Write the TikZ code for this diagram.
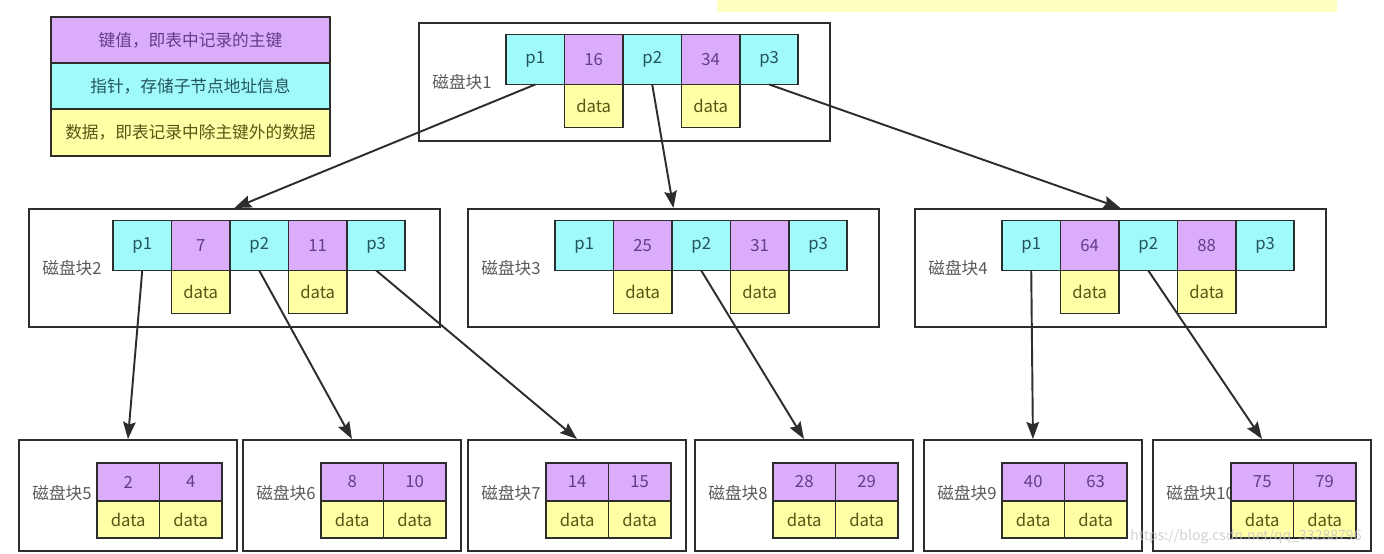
\documentclass[tikz,border=0pt]{standalone}
\usepackage{fontspec}
\setmainfont{Noto Sans CJK SC}
\usetikzlibrary{calc,arrows.meta}
\definecolor{keyc}{RGB}{218,172,250}
\definecolor{ptrc}{RGB}{160,250,250}
\definecolor{datac}{RGB}{255,255,165}
\definecolor{linec}{RGB}{45,45,45}
\definecolor{keytxt}{RGB}{100,60,135}
\definecolor{ptrtxt}{RGB}{35,85,95}
\definecolor{dattxt}{RGB}{90,85,20}
\definecolor{lbltxt}{RGB}{90,90,90}
\definecolor{barc}{RGB}{255,255,192}

\begin{document}
\begin{tikzpicture}[x=0.02cm,y=-0.02cm,
		cell/.style={draw=linec,line width=1.1pt,outer sep=0pt,inner sep=0pt,anchor=north west,
			minimum width=1.17cm,minimum height=1cm,font=\fontsize{9.5}{11}\selectfont},
		key/.style={cell,fill=keyc,text=keytxt},
		ptr/.style={cell,fill=ptrc,text=ptrtxt},
		dat/.style={cell,fill=datac,text=dattxt,minimum height=0.86cm},
		blk/.style={draw=linec,line width=1.1pt,inner sep=0pt,anchor=north west},
		lbl/.style={anchor=west,text=lbltxt,inner sep=0pt,font=\fontsize{9.5}{11}\selectfont},
		arr/.style={draw=linec,line width=1.1pt,-{Stealth[length=0.34cm,width=0.25cm,inset=0.05cm]}}]
	\useasboundingbox (0,0) rectangle (1384,554);
	\fill[barc] (717,0) rectangle (1337,12);
	
	% legend
	\node[key,minimum width=5.58cm,minimum height=0.92cm] (lg1) at (51,17) {键值，即表中记录的主键};
	\node[ptr,minimum width=5.58cm,minimum height=0.92cm] (lg2) at (lg1.south west) {指针，存储子节点地址信息};
	\node[dat,minimum width=5.58cm,minimum height=0.94cm] (lg3) at (lg2.south west) {数据，即表记录中除主键外的数据};
	
	% upper blocks
	\foreach \n/\bx/\by/\cx/\ka/\kb in {1/418/22/506/16/34, 2/28/208/113/7/11, 3/467/208/555/25/31, 4/914/208/1002/64/88}{
		\node[blk,minimum width=8.22cm,minimum height=2.36cm] (blk\n) at (\bx,\by) {};
		\node[lbl] (lb\n) at (\bx+14,\by+60) {磁盘块\n};
		\node[ptr] (b\n-p1) at (\cx,\by+12.5) {p1};
		\node[key] (b\n-k1) at (b\n-p1.north east) {\ka};
		\node[ptr] (b\n-p2) at (b\n-k1.north east) {p2};
		\node[key] (b\n-k2) at (b\n-p2.north east) {\kb};
		\node[ptr] (b\n-p3) at (b\n-k2.north east) {p3};
		\node[dat] (b\n-d1) at (b\n-k1.south west) {data};
		\node[dat] (b\n-d2) at (b\n-k2.south west) {data};
	}
	
	% leaf blocks
	\foreach \n/\bx/\ka/\kb in {5/18/2/4, 6/242/8/10, 7/467/14/15, 8/694/28/29, 9/923/40/63, 10/1152/75/79}{
		\node[blk,minimum width=4.36cm,minimum height=2.22cm] (blk\n) at (\bx,439) {};
		\node[lbl] (lb\n) at (\bx+14,493) {磁盘块\n};
		\node[key,minimum width=1.25cm,minimum height=0.76cm] (b\n-k1) at (\bx+79,463) {\ka};
		\node[key,minimum width=1.25cm,minimum height=0.76cm] (b\n-k2) at (b\n-k1.north east) {\kb};
		\node[dat,minimum width=1.25cm,minimum height=0.74cm] (b\n-d1) at (b\n-k1.south west) {data};
		\node[dat,minimum width=1.25cm,minimum height=0.74cm] (b\n-d2) at (b\n-k2.south west) {data};
	}
	
	\draw[arr] (b1-p1.south) -- (blk2.north);
	\draw[arr] (b1-p2.south) -- (blk3.north);
	\draw[arr] (b1-p3.south) -- (blk4.north);
	\draw[arr] (b2-p1.south) -- (blk5.north);
	\draw[arr] (b2-p2.south) -- (blk6.north);
	\draw[arr] (b2-p3.south) -- (blk7.north);
	\draw[arr] (b3-p2.south) -- (blk8.north);
	\draw[arr] (b4-p1.south) -- (blk9.north);
	\draw[arr] (b4-p2.south) -- (blk10.north);
	
	\node[anchor=west,inner sep=0pt,text=gray!45,opacity=0.8,font=\fontsize{8}{9}\selectfont] (wm) at (1130,537) {https://blog.csdn.net/qq\_33288796};
\end{tikzpicture}
\end{document}
